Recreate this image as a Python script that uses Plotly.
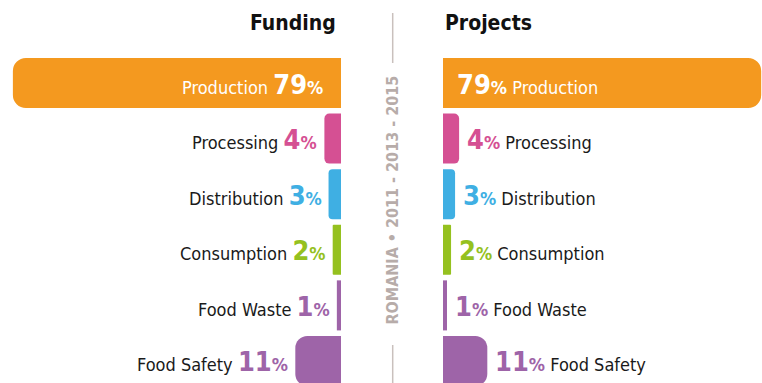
import plotly.graph_objects as go

# Share of funding and of projects by food-system stage (Romania, 2011-2015)
categories = ["Production", "Processing", "Distribution", "Consumption", "Food Waste", "Food Safety"]
funding_pct = [79, 4, 3, 2, 1, 11]
projects_pct = [79, 4, 3, 2, 1, 11]
bar_colors = ["#F4991F", "#D55093", "#3FAFE3", "#95C11F", "#9E64A8", "#9E64A8"]
corner_radii = [13, 5, 4, 1, 0, 12]

panel_titles = ["Funding", "Projects"]
side_caption = "ROMANIA • 2011 - 2013 - 2015"

W, H = 762, 383
FONT = "DejaVu Sans Condensed, DejaVu Sans, sans-serif"
rows = list(range(len(categories)))

fig = go.Figure()
for i, (fv, pv, col, r) in enumerate(zip(funding_pct, projects_pct, bar_colors, corner_radii)):
    fig.add_trace(go.Bar(
        x=[fv], y=[i], orientation="h", xaxis="x", yaxis="y",
        marker=dict(color=col, cornerradius=r, line=dict(width=0)),
        width=0.9, hoverinfo="skip", showlegend=False,
    ))
    fig.add_trace(go.Bar(
        x=[pv], y=[i], orientation="h", xaxis="x2", yaxis="y",
        marker=dict(color=col, cornerradius=r, line=dict(width=0)),
        width=0.9, hoverinfo="skip", showlegend=False,
    ))


def value_html(v, color):
    return (f"<b><span style='font-size:27px;color:{color}'>{v}</span>"
            f"<span style='font-size:18px;color:{color}'>%</span></b>")


annotations = []
for i, (cat, fv, pv, col) in enumerate(zip(categories, funding_pct, projects_pct, bar_colors)):
    inside = i == 0
    txt_col = "white" if inside else "#1a1a1a"
    num_col = "white" if inside else col
    # Funding side (bars grow to the left)
    annotations.append(dict(
        x=0 if inside else fv, y=i, xref="x", yref="y",
        xanchor="right", yanchor="middle", showarrow=False,
        xshift=-16 if inside else -5, yshift=-1,
        text=f"<span style='color:{txt_col}'>{cat}</span> " + value_html(fv, num_col),
        font=dict(family=FONT, size=18, color=txt_col),
    ))
    # Projects side (bars grow to the right)
    annotations.append(dict(
        x=0 if inside else pv, y=i, xref="x2", yref="y",
        xanchor="left", yanchor="middle", showarrow=False,
        xshift=12 if inside else 6, yshift=-1,
        text=value_html(pv, num_col) + f" <span style='color:{txt_col}'>{cat}</span>",
        font=dict(family=FONT, size=18, color=txt_col),
    ))

annotations += [
    dict(x=338 / W, y=1 - 23 / H, xref="paper", yref="paper", xanchor="right",
         yanchor="middle", showarrow=False, text=f"<b>{panel_titles[0]}</b>",
         font=dict(family=FONT, size=21, color="#111111")),
    dict(x=443 / W, y=1 - 23 / H, xref="paper", yref="paper", xanchor="left",
         yanchor="middle", showarrow=False, text=f"<b>{panel_titles[1]}</b>",
         font=dict(family=FONT, size=21, color="#111111")),
    dict(x=392 / W, y=1 - 200.5 / H, xref="paper", yref="paper", xanchor="center",
         yanchor="middle", showarrow=False, textangle=-90,
         text=f"<b>{side_caption}</b>",
         font=dict(family=FONT, size=16, color="#B7ACA9")),
]

shapes = [
    dict(type="line", xref="paper", yref="paper", x0=392.7 / W, x1=392.7 / W,
         y0=1 - 13 / H, y1=1 - 63 / H, line=dict(color="#C9C0BD", width=1.5)),
    dict(type="line", xref="paper", yref="paper", x0=392.7 / W, x1=392.7 / W,
         y0=1 - 345 / H, y1=0, line=dict(color="#C9C0BD", width=1.5)),
]

axis_off = dict(visible=False, showgrid=False, zeroline=False, fixedrange=True)
fig.update_layout(
    width=W, height=H,
    margin=dict(l=0, r=0, t=0, b=0),
    paper_bgcolor="white", plot_bgcolor="rgba(0,0,0,0)",
    xaxis=dict(domain=[0, 341 / W], range=[82.1, 0], **axis_off),
    xaxis2=dict(domain=[443 / W, 1], range=[0, 79.2], anchor="y", **axis_off),
    yaxis=dict(domain=[0, 1], range=[5.396, -1.493], **axis_off),
    barmode="overlay",
    annotations=annotations,
    shapes=shapes,
)

fig.write_html("out.html")
